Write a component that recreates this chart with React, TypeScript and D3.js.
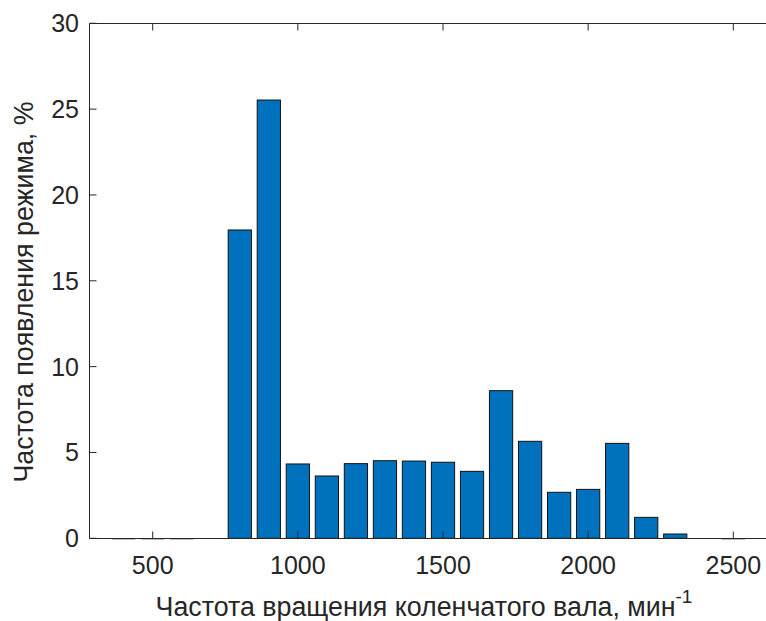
import React from "react";
import * as d3 from "d3";

const rpm = [400, 500, 600, 800, 900, 1000, 1100, 1200, 1300, 1400, 1500, 1600, 1700, 1800, 1900, 2000, 2100, 2200, 2300, 2500];
const freq = [0, 0, 0, 17.96, 25.53, 4.33, 3.63, 4.35, 4.52, 4.5, 4.43, 3.9, 8.6, 5.65, 2.68, 2.85, 5.53, 1.22, 0.25, 0];
const xTicks = [500, 1000, 1500, 2000, 2500];
const yTicks = [0, 5, 10, 15, 20, 25, 30];
const xLabel = "Частота вращения коленчатого вала, мин";
const xLabelSup = "-1";
const yLabel = "Частота появления режима, %";

const W = 766;
const H = 621;
const FONT = "'Liberation Sans', Arial, Helvetica, sans-serif";
const TXT = "#262626";

export default function App() {
  const x = d3.scaleLinear().domain([500, 2500]).range([152.7, 733.3]);
  const y = d3.scaleLinear().domain([0, 30]).range([538.3, 23.3]);
  const left = 89.5;
  const right = W;
  const top = Math.round(y(30)) + 0.5;
  const bottom = Math.round(y(0)) + 0.5;
  const bw = 0.8 * (x(100) - x(0));
  const tickLen = 7;

  return (
    <svg
      width={W}
      height={H}
      style={{ position: "absolute", left: 0, top: 0, background: "#fff" }}
      fontFamily={FONT}
    >
      <rect x={0} y={0} width={W} height={H} fill="#fff" />
      {rpm.map((r, i) => {
        const v = freq[i];
        const x0 = x(r) - bw / 2;
        if (v === 0) {
          return (
            <line
              key={i}
              x1={x0}
              x2={x0 + bw}
              y1={bottom + 0.7}
              y2={bottom + 0.7}
              stroke="#9a9a9a"
              strokeWidth={1}
            />
          );
        }
        return (
          <rect
            key={i}
            x={x0}
            y={y(v)}
            width={bw}
            height={y(0) - y(v)}
            fill="#0072BD"
            stroke="#111"
            strokeWidth={1}
          />
        );
      })}
      {/* axes box */}
      <line x1={left} x2={right} y1={top} y2={top} stroke={TXT} strokeWidth={1} />
      <line x1={left} x2={right} y1={bottom} y2={bottom} stroke={TXT} strokeWidth={1} />
      <line x1={left} x2={left} y1={top} y2={bottom} stroke={TXT} strokeWidth={1} />
      {/* x ticks */}
      {xTicks.map((t) => (
        <g key={t}>
          <line x1={x(t)} x2={x(t)} y1={bottom} y2={bottom - tickLen} stroke={TXT} strokeWidth={1} />
          <line x1={x(t)} x2={x(t)} y1={top} y2={top + tickLen} stroke={TXT} strokeWidth={1} />
          <text x={x(t)} y={574.3} textAnchor="middle" fontSize={25} fill={TXT}>
            {t}
          </text>
        </g>
      ))}
      {/* y ticks */}
      {yTicks.map((t) => (
        <g key={t}>
          <line x1={left} x2={left + tickLen} y1={y(t)} y2={y(t)} stroke={TXT} strokeWidth={1} />
          <text x={79} y={y(t) + 9} textAnchor="end" fontSize={25} fill={TXT}>
            {t}
          </text>
        </g>
      ))}
      {/* x label */}
      <text x={424} y={615.5} textAnchor="middle" fontSize={26.8} fill={TXT}>
        {xLabel}
        <tspan dy={-12.5} fontSize={19}>
          {xLabelSup}
        </tspan>
      </text>
      {/* y label */}
      <text
        transform={`translate(33,292) rotate(-90)`}
        textAnchor="middle"
        fontSize={26.8}
        fill={TXT}
      >
        {yLabel}
      </text>
    </svg>
  );
}
